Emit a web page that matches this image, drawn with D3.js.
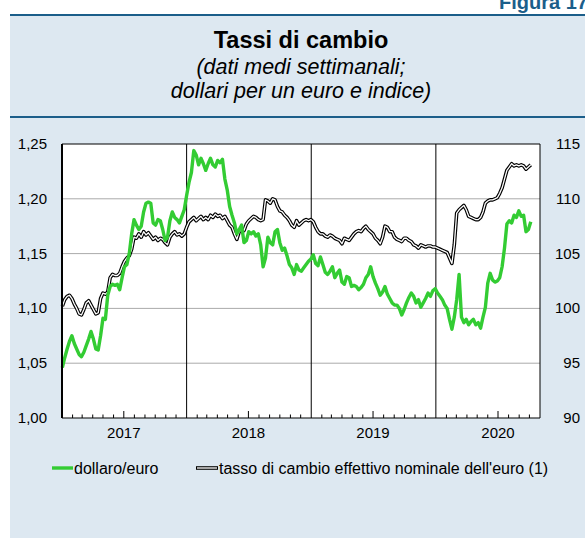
<!DOCTYPE html>
<html>
<head>
<meta charset="utf-8">
<script src="https://cdn.jsdelivr.net/npm/d3@7"></script>
<style>
  body { margin: 0; background: #fff; }
  svg text { font-family: "Liberation Sans", Arial, Helvetica, sans-serif; }
</style>
</head>
<body>
<div id="chart"></div>
<script>
// dati medi settimanali, dal 2 gennaio 2017
const dollaroEuro = [
  // 2017
  1.046,1.055,1.063,1.070,1.075,1.068,1.063,1.058,1.056,1.060,1.066,1.072,1.079,1.072,1.063,1.062,1.075,1.091,1.090,1.112,1.120,1.122,1.121,1.122,1.117,1.128,
  1.138,1.140,1.150,1.168,1.181,1.176,1.172,1.175,1.188,1.196,1.197,1.196,1.178,1.176,1.181,1.180,1.172,1.162,1.165,1.180,1.188,1.183,1.181,1.178,1.184,1.190,
  // 2018
  1.203,1.215,1.224,1.244,1.240,1.231,1.237,1.232,1.226,1.232,1.237,1.231,1.229,1.235,1.233,1.236,1.218,1.208,1.193,1.185,1.178,1.168,1.172,1.176,1.160,1.162,
  1.170,1.168,1.170,1.166,1.168,1.158,1.138,1.146,1.165,1.160,1.158,1.170,1.172,1.160,1.153,1.155,1.148,1.140,1.137,1.131,1.140,1.135,1.134,1.137,1.140,1.143,
  // 2019
  1.145,1.149,1.141,1.139,1.147,1.140,1.133,1.131,1.134,1.138,1.128,1.132,1.135,1.124,1.122,1.129,1.128,1.120,1.121,1.120,1.117,1.119,1.122,1.128,1.131,1.138,
  1.129,1.123,1.118,1.112,1.115,1.120,1.113,1.109,1.105,1.103,1.103,1.100,1.094,1.099,1.105,1.110,1.114,1.111,1.105,1.108,1.101,1.105,1.109,1.114,1.111,1.116,
  // 2020
  1.118,1.114,1.111,1.108,1.103,1.100,1.090,1.081,1.092,1.108,1.131,1.092,1.087,1.090,1.085,1.088,1.090,1.085,1.087,1.082,1.092,1.101,1.123,1.132,1.126,1.124,
  1.125,1.128,1.138,1.155,1.177,1.180,1.178,1.185,1.183,1.189,1.184,1.185,1.170,1.172,1.179
];

const tassoEffettivo = [
  // 2017
  100.2,100.8,101.1,101.2,100.9,100.4,100.0,99.5,99.4,99.9,100.5,100.7,100.3,99.9,99.5,99.6,100.9,101.4,101.3,101.5,102.8,103.1,103.0,103.0,103.2,103.8,
  104.3,104.6,104.8,105.4,106.5,106.4,106.8,106.5,107.0,106.7,106.9,106.6,106.3,106.5,106.2,106.4,106.3,106.0,105.8,106.5,106.8,107.0,106.7,106.8,106.6,106.8,
  // 2018
  107.4,107.9,108.1,108.3,108.0,108.2,108.4,108.1,108.3,108.1,108.5,108.3,108.6,108.4,108.5,108.2,108.4,108.0,107.6,107.4,106.8,106.3,107.0,107.2,107.1,107.7,
  108.0,108.2,108.4,108.3,108.1,108.0,108.1,109.9,109.8,109.6,110.0,109.9,109.3,108.9,108.8,108.5,108.3,108.0,107.6,107.4,108.0,107.6,107.8,108.0,108.1,108.0,
  // 2019
  108.1,107.9,107.4,107.0,106.8,106.8,106.6,106.5,106.7,106.6,106.4,106.3,106.2,105.9,106.4,106.3,106.2,106.5,106.8,107.0,107.1,107.0,107.3,107.5,107.2,107.0,
  106.8,106.4,106.2,105.9,106.5,107.5,107.4,107.0,107.0,106.5,106.3,106.2,106.1,106.4,106.4,106.2,106.1,105.8,105.7,105.5,105.8,105.7,105.6,105.7,105.7,105.6,
  // 2020
  105.6,105.5,105.4,105.3,105.2,105.1,104.6,104.1,105.8,108.7,109.0,109.2,109.4,109.0,108.4,108.3,108.2,108.1,108.1,108.3,108.8,109.6,109.8,109.9,109.9,110.0,
  110.1,110.5,111.0,111.8,112.6,112.9,113.2,113.0,113.1,113.0,113.1,113.0,112.7,112.9,113.1
];

const primaSettimana = new Date(2017, 0, 2);
const anni = [2017, 2018, 2019, 2020];
const tickSinistra = [1.00, 1.05, 1.10, 1.15, 1.20, 1.25];
const tickDestra = [90, 95, 100, 105, 110, 115];
const serieNomi = ["dollaro/euro", "tasso di cambio effettivo nominale dell'euro (1)"];

const width = 585, height = 538,
      plot = {left: 62, top: 144, right: 540, bottom: 418},
      blu = "#1b5e8a", verde = "#33cc33";

const svg = d3.select("#chart").append("svg")
    .attr("width", width)
    .attr("height", height);

// pannello azzurro e filetti
svg.append("rect")
    .attr("x", 10).attr("y", 15)
    .attr("width", width - 10).attr("height", height - 15)
    .attr("fill", "#dde8f1");

svg.selectAll(".filetto")
    .data([15, 117])
    .enter().append("line")
    .attr("x1", 10).attr("x2", width)
    .attr("y1", d => d).attr("y2", d => d)
    .attr("stroke", blu).attr("stroke-width", 2);

svg.append("text")
    .attr("x", 499).attr("y", 9)
    .attr("fill", blu)
    .style("font-size", "20px").style("font-weight", "bold")
    .text("Figura 17");

svg.append("text")
    .attr("x", 301).attr("y", 48)
    .style("text-anchor", "middle")
    .style("font-size", "23.5px").style("font-weight", "bold")
    .text("Tassi di cambio");

svg.selectAll(".sottotitolo")
    .data(["(dati medi settimanali;", "dollari per un euro e indice)"])
    .enter().append("text")
    .attr("x", 301)
    .attr("y", (d, i) => 74 + i * 24)
    .style("text-anchor", "middle")
    .style("font-size", "21.5px").style("font-style", "italic")
    .text(d => d);

// scale
const x = d3.scaleTime()
    .domain([new Date(2017, 0, 1), new Date(2020, 10, 1)])
    .range([plot.left, plot.right]);

const ySx = d3.scaleLinear()
    .domain([1.00, 1.25])
    .range([plot.bottom, plot.top]);

const yDx = d3.scaleLinear()
    .domain([90, 115])
    .range([plot.bottom, plot.top]);

const data = (i) => d3.timeDay.offset(primaSettimana, i * 7);

svg.append("rect")
    .attr("x", plot.left).attr("y", plot.top)
    .attr("width", plot.right - plot.left).attr("height", plot.bottom - plot.top)
    .attr("fill", "#fff");

// griglia orizzontale
svg.selectAll(".griglia")
    .data(tickSinistra.slice(1, -1))
    .enter().append("line")
    .attr("x1", plot.left).attr("x2", plot.right)
    .attr("y1", d => ySx(d)).attr("y2", d => ySx(d))
    .attr("stroke", "#aaa").attr("stroke-width", 1);

// separatori degli anni
svg.selectAll(".anno")
    .data(anni.slice(1))
    .enter().append("line")
    .attr("x1", d => x(new Date(d, 0, 1))).attr("x2", d => x(new Date(d, 0, 1)))
    .attr("y1", plot.top).attr("y2", plot.bottom)
    .attr("stroke", "#000").attr("stroke-width", 1);

// tacche mensili sull'asse
const mesi = d3.timeMonth.range(new Date(2017, 1, 1), new Date(2020, 10, 1))
    .filter(d => d.getMonth() !== 0);

svg.selectAll(".tacca")
    .data(mesi)
    .enter().append("line")
    .attr("x1", d => x(d)).attr("x2", d => x(d))
    .attr("y1", plot.bottom)
    .attr("y2", d => plot.bottom - (d.getMonth() === 6 ? 7 : 3.5))
    .attr("stroke", "#000").attr("stroke-width", 1);

svg.selectAll(".etAnno")
    .data(anni)
    .enter().append("text")
    .attr("x", d => x(new Date(d, 6, 1)))
    .attr("y", 438)
    .style("text-anchor", "middle")
    .style("font-size", "15px")
    .text(d => d);

svg.selectAll(".etSx")
    .data(tickSinistra)
    .enter().append("text")
    .attr("x", 47)
    .attr("y", d => ySx(d) + 5)
    .style("text-anchor", "end")
    .style("font-size", "15px")
    .text(d => d3.format(".2f")(d).replace(".", ","));

svg.selectAll(".etDx")
    .data(tickDestra)
    .enter().append("text")
    .attr("x", 580)
    .attr("y", d => yDx(d) + 5)
    .style("text-anchor", "end")
    .style("font-size", "15px")
    .text(d => d);

// serie
const lineaDx = d3.line()
    .x((d, i) => x(data(i)))
    .y(d => yDx(d));

const lineaSx = d3.line()
    .x((d, i) => x(data(i)))
    .y(d => ySx(d));

svg.append("path")
    .datum(tassoEffettivo)
    .attr("d", lineaDx)
    .attr("fill", "none")
    .attr("stroke", "#000").attr("stroke-width", 3.6)
    .attr("stroke-linejoin", "round");

svg.append("path")
    .datum(tassoEffettivo)
    .attr("d", lineaDx)
    .attr("fill", "none")
    .attr("stroke", "#fff").attr("stroke-width", 1.3)
    .attr("stroke-linejoin", "round");

svg.append("path")
    .datum(dollaroEuro)
    .attr("d", lineaSx)
    .attr("fill", "none")
    .attr("stroke", verde).attr("stroke-width", 3.4)
    .attr("stroke-linejoin", "round");

// cornice
svg.append("path")
    .attr("d", `M${plot.left},${plot.top}H${plot.right}V${plot.bottom}`)
    .attr("fill", "none").attr("stroke", "#000").attr("stroke-width", 1);

svg.append("line")
    .attr("x1", plot.left).attr("x2", plot.right)
    .attr("y1", plot.bottom).attr("y2", plot.bottom)
    .attr("stroke", "#000").attr("stroke-width", 1.2);

svg.append("line")
    .attr("x1", plot.left).attr("x2", plot.left)
    .attr("y1", plot.top).attr("y2", plot.bottom)
    .attr("stroke", "#000").attr("stroke-width", 2);

// legenda
const legenda = svg.append("g");

legenda.append("line")
    .attr("x1", 52).attr("x2", 73).attr("y1", 468).attr("y2", 468)
    .attr("stroke", verde).attr("stroke-width", 3.4);

legenda.append("line")
    .attr("x1", 196).attr("x2", 218).attr("y1", 468).attr("y2", 468)
    .attr("stroke", "#000").attr("stroke-width", 3.6);

legenda.append("line")
    .attr("x1", 197).attr("x2", 217).attr("y1", 468).attr("y2", 468)
    .attr("stroke", "#fff").attr("stroke-width", 1.3);

legenda.selectAll("text")
    .data(serieNomi)
    .enter().append("text")
    .attr("x", (d, i) => i === 0 ? 74 : 219)
    .attr("y", 473.5)
    .style("font-size", "16px")
    .text(d => d);
</script>
</body>
</html>
